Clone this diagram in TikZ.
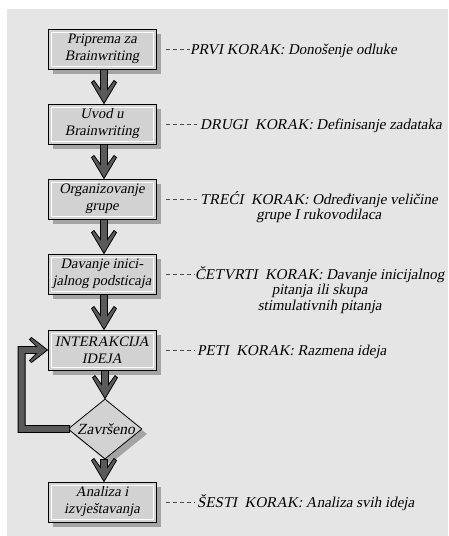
\documentclass[tikz,border=0pt]{standalone}
\usepackage{fontspec}
\setmainfont{Liberation Serif}
\newfontfamily\slantserif{Liberation Serif}[FakeSlant=0.2]
\usetikzlibrary{shapes.geometric,shadows,calc}

\definecolor{panel}{HTML}{E4E5E4}
\definecolor{boxfill}{HTML}{D2D2D2}
\definecolor{shade}{HTML}{A4A4A4}
\definecolor{flowfill}{HTML}{5A5A5A}
\definecolor{leadercol}{HTML}{4A4A4A}

\newcommand\stepboxfont{\slantserif\fontsize{14.5}{17}\selectfont}
\newcommand\steplabelfont{\slantserif\fontsize{15}{15.5}\selectfont}

% thick downward block arrow with a notched chevron head, tip at #2
\newcommand\chevdown[2]{%
  \draw[flow] let \p1=(#1), \p2=(#2) in
    (\x2-3.5pt,\y1) -- (\x2-3.5pt,\y2+14pt) -- (\x2-10pt,\y2+23pt)
    -- (\x2-12.5pt,\y2+21pt) -- (\x2,\y2) -- (\x2+12.5pt,\y2+21pt)
    -- (\x2+10pt,\y2+23pt) -- (\x2+3.5pt,\y2+14pt) -- (\x2+3.5pt,\y1) -- cycle;}

\tikzset{
  stepbox/.style={draw=black, line width=1pt, fill=boxfill,
    minimum width=108pt, minimum height=40pt, inner sep=0pt,
    align=center, font=\stepboxfont,
    drop shadow={shadow xshift=5pt, shadow yshift=-5pt, fill=shade, opacity=1},
    path picture={\draw[white, line width=1pt]
      ([shift={(3pt,-3pt)}]path picture bounding box.north west) rectangle
      ([shift={(-3pt,3pt)}]path picture bounding box.south east);}},
  decision/.style={diamond, draw=black, line width=0.8pt, fill=boxfill,
    minimum width=74pt, minimum height=60pt, inner sep=0pt,
    drop shadow={shadow xshift=5pt, shadow yshift=-5pt, fill=shade, opacity=1}},
  flow/.style={draw=black, line width=0.8pt, fill=flowfill, line join=miter},
  leader/.style={draw=leadercol, line width=0.8pt, dash pattern=on 4pt off 3pt},
  steplabel/.style={font=\steplabelfont, align=center, inner sep=0pt, anchor=base west},
}

\begin{document}
\begin{tikzpicture}[x=1pt, y=-1pt]
  \useasboundingbox (0,0) rectangle (448,536);
  \fill[white] (0,0) rectangle (448,536);
  \fill[panel] (7,9) rectangle (448,536);

  % process steps
  \node[stepbox] (b1) at (102,49)  {Priprema za\\Brainwriting};
  \node[stepbox] (b2) at (102,124) {Uvod u\\Brainwriting};
  \node[stepbox] (b3) at (102,199) {Organizovanje\\grupe};
  \node[stepbox] (b4) at (102,274) {Davanje inici-\\jalnog podsticaja};
  \node[stepbox] (b5) at (102,350) {INTERAKCIJA\\IDEJA};
  \node[decision] (d) at (105,429) {};
  \node[font=\slantserif\fontsize{15.5}{17}\selectfont, inner sep=0pt] (dt) at ([xshift=1pt]d.center) {Završeno};
  \node[stepbox] (b6) at (102,502) {Analiza i\\izvještavanja};

  % feedback loop from the decision back to the interaction step
  \draw[flow] let \p1=(d.west), \p2=(b5.west) in
    (\x1+2pt,\y1+3.5pt) -- (\x1-42.5pt,\y1+3.5pt) -- (\x1-42.5pt,\y2-3.5pt)
    -- (\x2-11pt,\y2-3.5pt) -- (\x2-18pt,\y2-10.5pt) -- (\x2-16pt,\y2-12.5pt)
    -- (\x2,\y2) -- (\x2-16pt,\y2+12.5pt) -- (\x2-18pt,\y2+10.5pt)
    -- (\x2-11pt,\y2+3.5pt) -- (\x1-49.5pt,\y2+3.5pt) -- (\x1-49.5pt,\y1-3.5pt)
    -- (\x1+2pt,\y1-3.5pt) -- cycle;

  % main flow
  \chevdown{[xshift=2pt]b1.south}{[xshift=2pt]b2.north}
  \chevdown{[xshift=2pt]b2.south}{[xshift=2pt]b3.north}
  \chevdown{[xshift=2pt]b3.south}{[xshift=2pt]b4.north}
  \chevdown{[xshift=2pt]b4.south}{[xshift=2pt]b5.north}
  \chevdown{[xshift=2pt]b5.south}{d.north}
  \chevdown{d.south}{[xshift=2pt]b6.north}

  % step descriptions (base anchor sits on the last line)
  \node[steplabel] (l1) at (190,54)  {PRVI KORAK: Donošenje odluke};
  \node[steplabel] (l2) at (200,129) {DRUGI\ \ KORAK: Definisanje zadataka};
  \node[steplabel] (l3) at (200,219.5) {TREĆI\ \ KORAK: Određivanje veličine\\grupe I rukovodilaca};
  \node[steplabel] (l4) at (195,310) {ČETVRTI\ \ KORAK: Davanje inicijalnog\\pitanja ili skupa\\stimulativnih pitanja};
  \node[steplabel] (l5) at (197,355) {PETI\ \ KORAK: Razmena ideja};
  \node[steplabel] (l6) at (197,507) {ŠESTI\ \ KORAK: Analiza svih ideja};

  \draw[leader] ([xshift=9pt]b1.east) -- (b1.east -| l1.west);
  \draw[leader] ([xshift=9pt]b2.east) -- ([xshift=-3pt]b2.east -| l2.west);
  \draw[leader] ([xshift=9pt]b3.east) -- ([xshift=-3pt]b3.east -| l3.west);
  \draw[leader] ([xshift=9pt]b4.east) -- ([xshift=-1pt]b4.east -| l4.west);
  \draw[leader] ([xshift=9pt]b5.east) -- ([xshift=-3pt]b5.east -| l5.west);
  \draw[leader] ([xshift=9pt]b6.east) -- ([xshift=-3pt]b6.east -| l6.west);
\end{tikzpicture}
\end{document}
